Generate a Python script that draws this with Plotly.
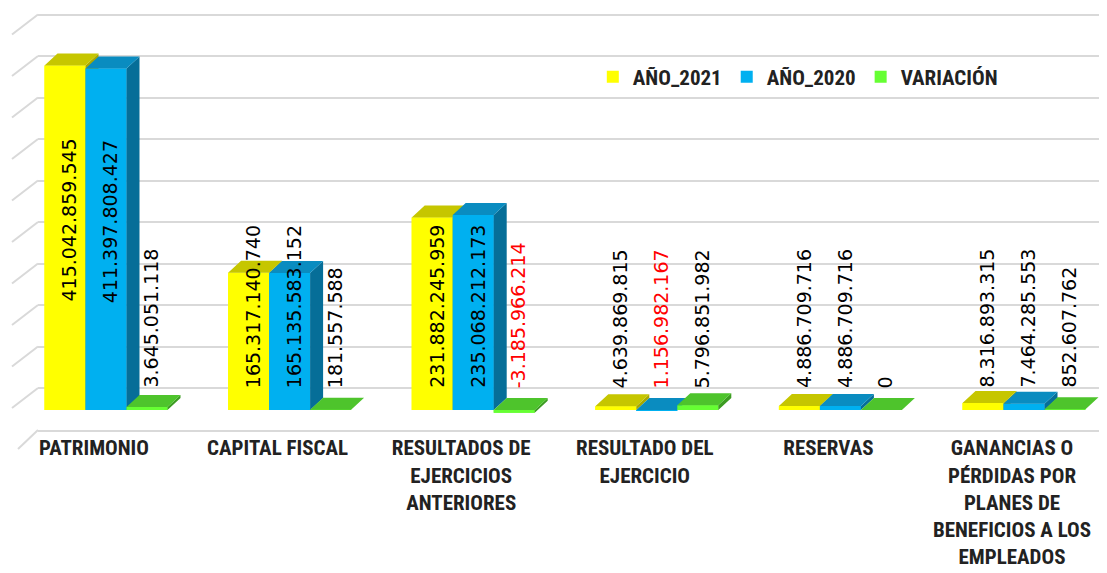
import plotly.graph_objects as go
import numpy as np

categories = ["PATRIMONIO", "CAPITAL FISCAL", "RESULTADOS DE<br>EJERCICIOS<br>ANTERIORES",
              "RESULTADO DEL<br>EJERCICIO", "RESERVAS",
              "GANANCIAS O<br>PÉRDIDAS POR<br>PLANES DE<br>BENEFICIOS A LOS<br>EMPLEADOS"]
anio_2021 = [415042859545, 165317140740, 231882245959, 4639869815, 4886709716, 8316893315]
anio_2020 = [411397808427, 165135583152, 235068212173, -1156982167, 4886709716, 7464285553]
variacion = [3645051118, 181557588, -3185966214, 5796851982, 0, 852607762]

series = [
    ("AÑO_2021", anio_2021, "#FFFF00", "#C6C600", "#A8A800"),
    ("AÑO_2020", anio_2020, "#00B0F0", "#0A8CC0", "#066E98"),
    ("VARIACIÓN", variacion, "#66FF33", "#4EC42C", "#3C9C22"),
]

# layout geometry (pixels); the page body adds an 8px offset
PAGE_OFF = 8
W, H = 1107 - PAGE_OFF, 573 - PAGE_OFF
ML, MR, MT, MB = 38 - PAGE_OFF, 0, 10 - PAGE_OFF, 573 - 430
plot_w = W - ML - MR
plot_h = H - MT - MB
px_per_unit = 183.6          # category spacing
first_center_px = 106 - 38   # group 0 center inside plot
px_per_val = 0.83e-9         # pixels per peso
base_from_bottom = 20        # floor front -> bar base
wall_shift = 22              # back wall offset
depth_dx_px, depth_dy_px = 13, 12

xmin = -first_center_px / px_per_unit
xmax = xmin + plot_w / px_per_unit
ymin = -base_from_bottom / px_per_val
ymax = ymin + plot_h / px_per_val
shift_val = wall_shift / px_per_val

bw = 41 / px_per_unit
dx = depth_dx_px / px_per_unit
dyv = depth_dy_px / px_per_val
offsets = [-bw, 0.0, bw]

fig = go.Figure()
xs = np.arange(len(categories), dtype=float)

for k, (name, vals, cfront, ctop, cside) in enumerate(series):
    fig.add_trace(go.Bar(
        x=xs + offsets[k], y=vals, width=bw, name=name,
        marker=dict(color=cfront, line=dict(width=0)),
        hovertemplate=name + ": %{y:,}<extra></extra>",
    ))

# 3D faces (painter's order per series)
for k, (name, vals, cfront, ctop, cside) in enumerate(series):
    fx, fy, sx, sy, tx, ty = [], [], [], [], [], []
    for i, v in enumerate(vals):
        x0 = xs[i] + offsets[k] - bw / 2
        x1 = x0 + bw
        b, t = min(0, v), max(0, v)
        fx += [x0, x1, x1, x0, x0, None]
        fy += [b, b, t, t, b, None]
        sx += [x1, x1 + dx, x1 + dx, x1, x1, None]
        sy += [b, b + dyv, t + dyv, t, b, None]
        tx += [x0, x1, x1 + dx, x0 + dx, x0, None]
        ty += [t, t, t + dyv, t + dyv, t, None]
    for px_, py_, col in ((fx, fy, cfront), (sx, sy, cside), (tx, ty, ctop)):
        fig.add_trace(go.Scatter(x=px_, y=py_, mode="lines", fill="toself",
                                 fillcolor=col, line=dict(width=0, color=col),
                                 showlegend=False, hoverinfo="skip"))

# data labels
annotations = []
label_base = 24e9
for k, (name, vals, *_rest) in enumerate(series):
    for i, v in enumerate(vals):
        txt = f"{v:,}".replace(",", ".")
        if v < 0 and name != "VARIACIÓN":
            txt = f"{abs(v):,}".replace(",", ".")
        color = "#FF0000" if v < 0 else "#000000"
        if v > 300e9:
            yy, ya = v * 0.55, "middle"
        else:
            yy, ya = label_base, "bottom"
        annotations.append(dict(
            x=xs[i] + offsets[k], y=yy, xref="x", yref="y", text=txt,
            showarrow=False, textangle=-90, xanchor="center", yanchor=ya,
            xshift=4, font=dict(family="DejaVu Sans", size=19, color=color)))

# side wall diagonals for the gridlines and floor
shapes = []
for g in range(0, 451, 50):
    shapes.append(dict(type="line", xref="paper", yref="y2", xsizemode="pixel",
                       ysizemode="pixel", xanchor=0, yanchor=g * 1e9,
                       x0=-26, x1=0, y0=-20, y1=0,
                       line=dict(color="#D9D9D9", width=2), layer="below"))
shapes.append(dict(type="line", xref="paper", yref="paper", xsizemode="pixel",
                   ysizemode="pixel", xanchor=0, yanchor=0,
                   x0=-20, x1=0, y0=-19, y1=0,
                   line=dict(color="#D9D9D9", width=2), layer="below"))

label_font = "Liberation Sans Narrow, Arial Narrow, Roboto Condensed, Liberation Sans, sans-serif"

fig.update_layout(
    width=W, height=H,
    margin=dict(l=ML, r=MR, t=MT, b=MB, autoexpand=False),
    paper_bgcolor="white", plot_bgcolor="white",
    barmode="overlay",
    showlegend=True,
    legend=dict(orientation="h", x=0.519, y=0.84, xanchor="left", yanchor="middle",
                font=dict(family=label_font, size=21, color="#222222", weight="bold"),
                bgcolor="rgba(0,0,0,0)", itemclick=False, itemwidth=30),
    xaxis=dict(range=[xmin, xmax], tickvals=list(xs), ticktext=categories,
               showgrid=False, zeroline=False, showline=True, linecolor="#D9D9D9",
               linewidth=2, ticks="", ticklabelshift=-12, ticklabelstandoff=-2,
               tickfont=dict(family=label_font, size=21, color="#222222", weight="bold")),
    yaxis=dict(range=[ymin, ymax], showgrid=False, zeroline=False,
               showticklabels=False, ticks=""),
    yaxis2=dict(range=[ymin - shift_val, ymax - shift_val], overlaying="y", side="left",
                showgrid=True, gridcolor="#D9D9D9", gridwidth=2, dtick=50e9, tick0=0,
                zeroline=False, showticklabels=False, ticks=""),
    annotations=annotations,
    shapes=shapes,
)
# dummy trace to activate yaxis2 gridlines
fig.add_trace(go.Scatter(x=[None], y=[None], yaxis="y2", showlegend=False, hoverinfo="skip"))

fig.write_html("out.html")
